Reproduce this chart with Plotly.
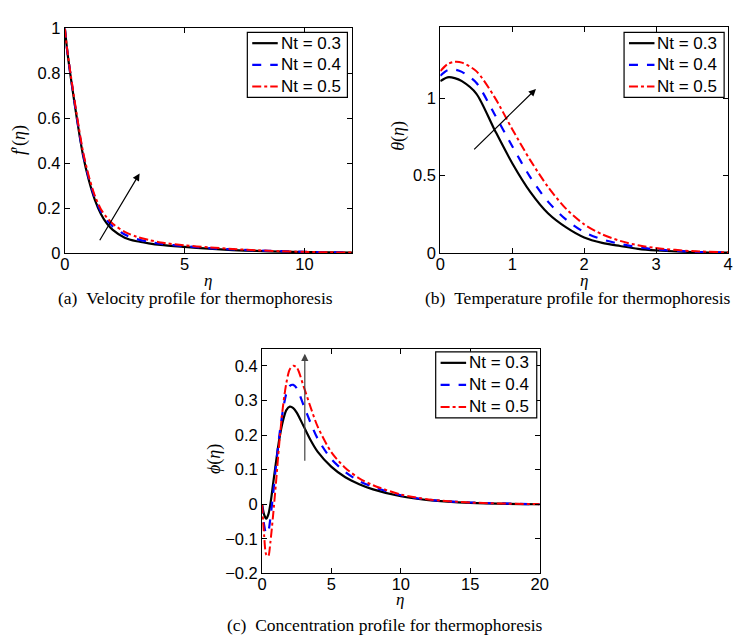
import plotly.graph_objects as go

W, H = 740, 643

# ---------------- data ----------------
labels = ["Nt = 0.3", "Nt = 0.4", "Nt = 0.5"]

eta_a = [0, 0.1, 0.25, 0.5, 0.75, 1, 1.25, 1.5, 1.75, 2, 2.5, 3, 3.5, 4, 5, 6, 7, 8, 9, 10, 11, 12]
fp_03 = [1, 0.9, 0.78, 0.6, 0.44, 0.325, 0.238, 0.175, 0.132, 0.103, 0.068, 0.052, 0.043, 0.036, 0.027, 0.019, 0.013, 0.009, 0.006, 0.004, 0.003, 0.002]
fp_04 = [1, 0.9, 0.785, 0.605, 0.447, 0.333, 0.247, 0.186, 0.146, 0.118, 0.082, 0.062, 0.05, 0.041, 0.03, 0.022, 0.016, 0.011, 0.008, 0.005, 0.003, 0.002]
fp_05 = [1, 0.905, 0.79, 0.615, 0.456, 0.342, 0.256, 0.196, 0.158, 0.13, 0.094, 0.072, 0.058, 0.047, 0.034, 0.025, 0.018, 0.012, 0.008, 0.005, 0.003, 0.002]

eta_b = [0, 0.1, 0.2, 0.3, 0.5, 0.75, 1, 1.25, 1.5, 1.75, 2, 2.25, 2.5, 2.75, 3, 3.5, 4]
th_03 = [1.11, 1.135, 1.13, 1.11, 1.03, 0.80, 0.58, 0.395, 0.255, 0.165, 0.1, 0.065, 0.045, 0.027, 0.017, 0.006, 0.002]
th_04 = [1.145, 1.18, 1.185, 1.17, 1.1, 0.9, 0.69, 0.49, 0.33, 0.215, 0.135, 0.088, 0.058, 0.037, 0.023, 0.008, 0.003]
th_05 = [1.175, 1.22, 1.235, 1.23, 1.175, 1.01, 0.80, 0.60, 0.425, 0.285, 0.185, 0.12, 0.078, 0.05, 0.032, 0.012, 0.004]

eta_c = [0, 0.15, 0.3, 0.45, 0.6, 0.8, 1.0, 1.25, 1.5, 1.75, 2.0, 2.25, 2.5, 3, 3.5, 4, 5, 6, 7, 8, 10, 12, 15, 20]
ph_03 = [0, -0.03, -0.042, -0.03, 0.0, 0.06, 0.12, 0.19, 0.24, 0.272, 0.282, 0.278, 0.265, 0.225, 0.185, 0.152, 0.108, 0.078, 0.058, 0.043, 0.023, 0.012, 0.004, 0.0]
ph_04 = [0, -0.06, -0.085, -0.078, -0.04, 0.03, 0.11, 0.2, 0.27, 0.32, 0.342, 0.345, 0.335, 0.285, 0.235, 0.19, 0.13, 0.093, 0.067, 0.05, 0.026, 0.013, 0.005, 0.0]
ph_05 = [0, -0.09, -0.145, -0.15, -0.11, -0.03, 0.06, 0.18, 0.28, 0.35, 0.39, 0.4, 0.395, 0.34, 0.28, 0.225, 0.15, 0.105, 0.075, 0.055, 0.028, 0.014, 0.005, 0.0]

captions = ["(a)\u00a0\u00a0Velocity profile for thermophoresis",
            "(b)\u00a0\u00a0Temperature profile for thermophoresis",
            "(c)\u00a0\u00a0Concentration profile for thermophoresis"]

# ---------------- style ----------------
colors = ["black", "blue", "red"]
dashes = ["solid", "dash", "dashdot"]
widths = [2.2, 2.2, 2.0]
SANS = "Liberation Sans, Arial, sans-serif"
SERIF = "Liberation Serif, Times New Roman, serif"

def px_x(p):
    return p / W

def px_y(p):
    return 1 - p / H

fig = go.Figure()

panels = [
    ("x", "y", eta_a, [fp_03, fp_04, fp_05]),
    ("x2", "y2", eta_b, [th_03, th_04, th_05]),
    ("x3", "y3", eta_c, [ph_03, ph_04, ph_05]),
]
for xa, ya, xs, series in panels:
    for i, ys in enumerate(series):
        fig.add_trace(go.Scatter(
            x=xs, y=ys, mode="lines", name=labels[i], showlegend=False,
            line=dict(color=colors[i], dash=dashes[i], width=widths[i], shape="spline", smoothing=0.8),
            xaxis=xa, yaxis=ya))

axis_common = dict(showline=True, linecolor="black", linewidth=1, mirror="ticks",
                   ticks="inside", ticklen=5, tickcolor="black", showgrid=False,
                   zeroline=False, tickfont=dict(family=SANS, size=16.5, color="black"))
xcommon = dict(axis_common, ticklabelstandoff=-4)

fig.update_layout(
    width=W, height=H, margin=dict(l=0, r=0, t=0, b=0),
    paper_bgcolor="white", plot_bgcolor="white", showlegend=False,
    xaxis=dict(domain=[px_x(61), px_x(354)], range=[0, 12], tickvals=[0, 5, 10], anchor="y", **xcommon),
    yaxis=dict(domain=[px_y(251), px_y(20)], range=[0, 1], tickvals=[0, 0.2, 0.4, 0.6, 0.8, 1], anchor="x", **axis_common),
    xaxis2=dict(domain=[px_x(443.7), px_x(737)], range=[0, 4], tickvals=[0, 1, 2, 3, 4], anchor="y2", **xcommon),
    yaxis2=dict(domain=[px_y(251), px_y(19)], range=[0, 1.457], tickvals=[0, 0.5, 1], anchor="x2", **axis_common),
    xaxis3=dict(domain=[px_x(262), px_x(545)], range=[0, 20], tickvals=[0, 5, 10, 15, 20], anchor="y3", **xcommon),
    yaxis3=dict(domain=[px_y(580.7), px_y(349.3)], range=[-0.2, 0.45], tickvals=[-0.2, -0.1, 0, 0.1, 0.2, 0.3, 0.4], anchor="x3", **axis_common),
)

# MATLAB-style legend boxes (box left, top, right, bottom in pixels)
legend_boxes = [(247, 24, 349, 91), (631, 24, 733, 91), (439, 352.7, 542, 420.7)]
for (l, t, r, b) in legend_boxes:
    fig.add_shape(type="rect", xref="paper", yref="paper",
                  x0=px_x(l), x1=px_x(r), y0=px_y(b), y1=px_y(t),
                  line=dict(color="black", width=1.2), fillcolor="white", layer="above")
    row_h = (b - t) / 3.0
    for i in range(3):
        yc = t + row_h * (i + 0.5)
        fig.add_shape(type="line", xref="paper", yref="paper",
                      x0=px_x(l + 5), x1=px_x(l + 31), y0=px_y(yc), y1=px_y(yc),
                      line=dict(color=colors[i], dash=dashes[i], width=widths[i]), layer="above")
        fig.add_annotation(text=labels[i], x=px_x(l + 32), y=px_y(yc), xref="paper", yref="paper",
                           showarrow=False, xanchor="left", yanchor="middle",
                           font=dict(family=SANS, size=17, color="black"))

# arrows (in data coordinates)
arrows = [
    ("x", "y", 1.42, 0.05, 3.12, 0.354, "black"),
    ("x2", "y2", 0.45, 0.66, 1.33, 1.06, "black"),
    ("x3", "y3", 3.08, 0.121, 3.08, 0.435, "#444444"),
]
for xa, ya, x0, y0, x1, y1, c in arrows:
    fig.add_annotation(x=x1, y=y1, ax=x0, ay=y0, xref=xa, yref=ya, axref=xa, ayref=ya,
                       showarrow=True, arrowhead=2, arrowsize=1.2, arrowwidth=1.2,
                       arrowcolor=c, text="")

# axis titles and captions
def note(text, x, y, size, angle=0):
    fig.add_annotation(text=text, x=px_x(x), y=px_y(y), xref="paper", yref="paper",
                       showarrow=False, textangle=angle, xanchor="center", yanchor="middle",
                       font=dict(family=SERIF, size=size, color="black"))

note("<i>f</i>\u2032(<i>η</i>)", 15, 135, 18, -90)
note("<i>η</i>", 207, 279, 17)
note("<i>θ</i>(<i>η</i>)", 401, 130, 18, -90)
note("<i>η</i>", 590, 279, 17)
note("<i>ϕ</i>(<i>η</i>)", 213, 463, 18, -90)
note("<i>η</i>", 403, 607, 17)

note(captions[0], 194, 297, 17.5)
note(captions[1], 584, 297, 17.5)
note(captions[2], 387, 634, 17.5)

fig.write_html("out.html")
